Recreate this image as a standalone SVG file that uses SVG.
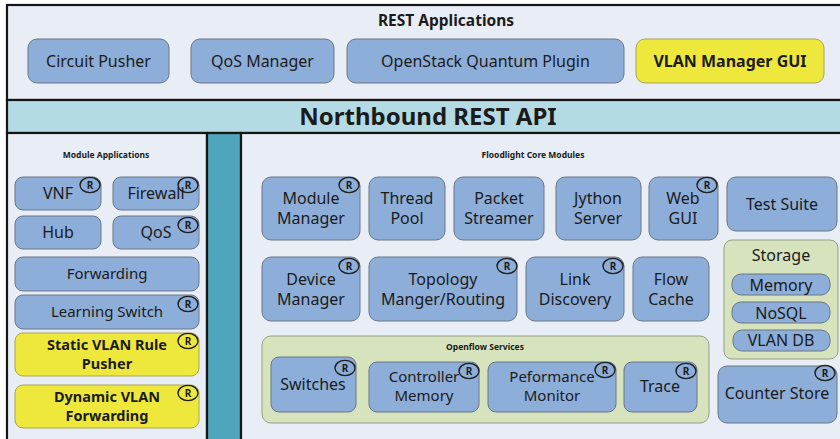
<svg xmlns="http://www.w3.org/2000/svg" width="840" height="439" viewBox="0 0 840 439">
  <style>
    text { font-family: "Noto Sans", "Open Sans", "Liberation Sans", sans-serif; fill: #1b1b1b; text-anchor: middle; }
    .panel { fill: #e9eef6; stroke: #151515; stroke-width: 2.2; }
    .bar { fill: #b4dbe4; stroke: #151515; stroke-width: 2.2; }
    .teal { fill: #4fa5bc; stroke: #151515; stroke-width: 2.2; }
    .box { fill: #8daed9; stroke: #6a7686; stroke-width: 1; }
    .ybox { fill: #efe83c; stroke: #a8a45a; stroke-width: 1; }
    .grp { fill: #d6e3bd; stroke: #949f86; stroke-width: 1; }
    .lbl { font-size: 16px; }
    .tight { font-size: 15px; }
    .blbl { font-size: 15px; font-weight: bold; }
    .hdr { font-size: 8.5px; font-weight: bold; }
  </style>
  <defs>
    <!-- "R" badge: outlined ellipse, transparent so the box colour shows through -->
    <g id="r">
      <ellipse cx="0" cy="0" rx="10" ry="7.6" fill="none" stroke="#1f1f1f" stroke-width="1.4"/>
      <text x="0" y="3.6" font-family="Noto Sans, Liberation Sans, sans-serif" font-size="10" font-weight="bold" fill="#1b1b1b" text-anchor="middle">R</text>
    </g>
  </defs>

  <!-- frame -->
  <rect class="panel" x="7" y="5" width="845" height="95"/>
  <rect class="bar" x="7" y="100" width="845" height="33"/>
  <rect class="panel" x="7" y="133" width="200" height="320"/>
  <rect class="teal" x="207" y="133" width="34" height="320"/>
  <rect class="panel" x="241" y="133" width="610" height="320"/>

  <text x="446" y="26" style="font-size:15.5px;font-weight:bold">REST Applications</text>
  <text x="428" y="125" style="font-size:24px;font-weight:bold">Northbound REST API</text>
  <text x="106" y="158" class="hdr">Module Applications</text>
  <text x="533" y="158" class="hdr">Floodlight Core Modules</text>

  <!-- REST applications -->
  <g id="circuit-pusher"><rect class="box" x="28" y="39" width="141" height="44" rx="9"/><text class="lbl" x="98.5" y="66.5">Circuit Pusher</text></g>
  <g id="qos-manager"><rect class="box" x="191" y="39" width="143" height="44" rx="9"/><text class="lbl" x="262.5" y="66.5">QoS Manager</text></g>
  <g id="openstack"><rect class="box" x="347" y="39" width="277" height="44" rx="9"/><text class="lbl" x="485.5" y="66.5">OpenStack Quantum Plugin</text></g>
  <g id="vlan-gui"><rect class="ybox" x="636" y="39" width="188" height="44" rx="9"/><text class="blbl" x="730" y="66.5" style="font-size:16px">VLAN Manager GUI</text></g>

  <!-- module applications -->
  <g id="vnf"><rect class="box" x="15" y="177" width="86" height="33" rx="8"/><text class="lbl" x="58" y="199">VNF</text><use href="#r" x="90" y="185"/></g>
  <g id="firewall"><rect class="box" x="113" y="177" width="86" height="33" rx="8"/><text class="lbl" x="156" y="199">Firewall</text><use href="#r" x="188" y="185"/></g>
  <g id="hub"><rect class="box" x="15" y="216" width="86" height="33" rx="8"/><text class="lbl" x="58" y="238">Hub</text></g>
  <g id="qos"><rect class="box" x="113" y="216" width="86" height="33" rx="8"/><text class="lbl" x="156" y="238">QoS</text><use href="#r" x="188" y="225"/></g>
  <g id="forwarding"><rect class="box" x="15" y="257" width="184" height="34" rx="8"/><text class="tight" x="107" y="279">Forwarding</text></g>
  <g id="learning-switch"><rect class="box" x="15" y="295" width="184" height="34" rx="8"/><text class="tight" x="107" y="317">Learning Switch</text><use href="#r" x="188" y="304"/></g>
  <g id="static-vlan"><rect class="ybox" x="15" y="333" width="184" height="43" rx="8"/><text class="blbl" x="107" y="350" style="font-size:14.5px">Static VLAN Rule</text><text class="blbl" x="107" y="369" style="font-size:14.5px">Pusher</text><use href="#r" x="188" y="341"/></g>
  <g id="dynamic-vlan"><rect class="ybox" x="15" y="385" width="184" height="43" rx="8"/><text class="blbl" x="107" y="402" style="font-size:14.5px">Dynamic VLAN</text><text class="blbl" x="107" y="421" style="font-size:14.5px">Forwarding</text><use href="#r" x="188" y="393"/></g>

  <!-- core modules, row 1 -->
  <g id="module-manager"><rect class="box" x="262" y="177" width="98" height="63" rx="9"/><text class="lbl" x="311" y="204">Module</text><text class="lbl" x="311" y="224">Manager</text><use href="#r" x="349" y="185"/></g>
  <g id="thread-pool"><rect class="box" x="369" y="177" width="76" height="63" rx="9"/><text class="lbl" x="407" y="204">Thread</text><text class="lbl" x="407" y="224">Pool</text></g>
  <g id="packet-streamer"><rect class="box" x="454" y="177" width="90" height="63" rx="9"/><text class="lbl" x="499" y="204">Packet</text><text class="lbl" x="499" y="224">Streamer</text></g>
  <g id="jython-server"><rect class="box" x="556" y="177" width="85" height="63" rx="9"/><text class="lbl" x="598" y="204">Jython</text><text class="lbl" x="598" y="224">Server</text></g>
  <g id="web-gui"><rect class="box" x="649" y="177" width="69" height="63" rx="9"/><text class="lbl" x="683" y="204">Web</text><text class="lbl" x="683" y="224">GUI</text><use href="#r" x="707" y="185"/></g>
  <g id="test-suite"><rect class="box" x="727" y="177" width="110" height="54" rx="9"/><text class="lbl" x="782" y="210">Test Suite</text></g>

  <!-- storage -->
  <g id="storage">
    <rect class="grp" x="724" y="240" width="114" height="119" rx="8"/>
    <text class="lbl" x="781" y="261">Storage</text>
    <rect class="box" x="732" y="274" width="98" height="21" rx="9"/><text class="lbl" x="781" y="290.5">Memory</text>
    <rect class="box" x="732" y="302" width="98" height="21" rx="9"/><text class="lbl" x="781" y="318.5">NoSQL</text>
    <rect class="box" x="733" y="330" width="97" height="21" rx="9"/><text class="lbl" x="781" y="345.5">VLAN DB</text>
  </g>

  <!-- core modules, row 2 -->
  <g id="device-manager"><rect class="box" x="262" y="257" width="98" height="64" rx="9"/><text class="lbl" x="311" y="285">Device</text><text class="lbl" x="311" y="305">Manager</text><use href="#r" x="349" y="266"/></g>
  <g id="topology"><rect class="box" x="369" y="257" width="148" height="64" rx="9"/><text class="lbl" x="443" y="285">Topology</text><text class="lbl" x="443" y="305">Manger/Routing</text><use href="#r" x="507" y="266"/></g>
  <g id="link-discovery"><rect class="box" x="526" y="257" width="98" height="64" rx="9"/><text class="lbl" x="575" y="285">Link</text><text class="lbl" x="575" y="305">Discovery</text><use href="#r" x="613" y="266"/></g>
  <g id="flow-cache"><rect class="box" x="633" y="257" width="76" height="64" rx="9"/><text class="lbl" x="671" y="285">Flow</text><text class="lbl" x="671" y="305">Cache</text></g>

  <!-- openflow services -->
  <g id="openflow-services">
    <rect class="grp" x="262" y="336" width="447" height="87" rx="9"/>
    <text class="hdr" x="485" y="350">Openflow Services</text>
  </g>
  <g id="switches"><rect class="box" x="271" y="357" width="85" height="55" rx="8"/><text class="lbl" x="313" y="390">Switches</text><use href="#r" x="345" y="368"/></g>
  <g id="controller-memory"><rect class="box" x="369" y="362" width="110" height="50" rx="8"/><text class="tight" x="424" y="382">Controller</text><text class="tight" x="424" y="401">Memory</text><use href="#r" x="469" y="371"/></g>
  <g id="performance-monitor"><rect class="box" x="488" y="362" width="128" height="50" rx="8"/><text class="tight" x="552" y="382">Peformance</text><text class="tight" x="552" y="401">Monitor</text><use href="#r" x="605" y="370"/></g>
  <g id="trace"><rect class="box" x="624" y="362" width="73" height="50" rx="8"/><text class="lbl" x="660" y="392">Trace</text><use href="#r" x="686" y="371"/></g>
  <g id="counter-store"><rect class="box" x="718" y="366" width="119" height="57" rx="9"/><text class="lbl" x="777" y="399">Counter Store</text><use href="#r" x="825" y="373"/></g>

  <!-- no connectors in this diagram -->
  <g id="connectors"/>
</svg>
